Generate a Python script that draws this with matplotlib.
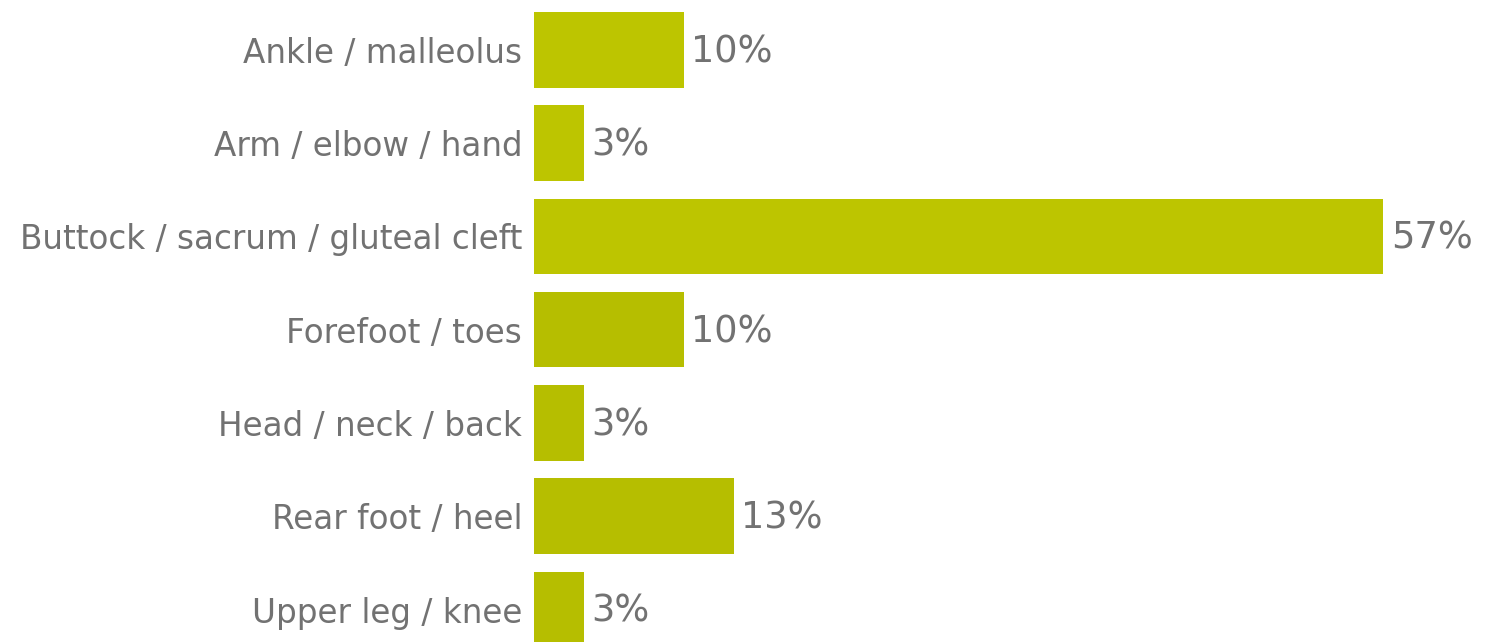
import matplotlib
matplotlib.use("Agg")
import matplotlib.pyplot as plt

sites = ["Ankle / malleolus", "Arm / elbow / hand", "Buttock / sacrum / gluteal cleft",
         "Forefoot / toes", "Head / neck / back", "Rear foot / heel", "Upper leg / knee"]
counts = [3, 1, 17, 3, 1, 4, 1]
total = 30
colors = ["#bdc500", "#bdc500", "#bdc500", "#b6be00", "#b6be00", "#b6be00", "#b6be00"]

share = [c / total for c in counts]

W, H = 1486, 642
fig = plt.figure(figsize=(W / 100, H / 100), dpi=100)
ax = fig.add_axes([534 / W, 0, 1 - 534 / W, 1])

pos = list(range(len(sites)))
ax.barh(pos, share, height=0.81, color=colors)

ax.set_xlim(0, (W - 534) / 1498.5)
ax.set_ylim((H - 49.75) / 93.3, -49.75 / 93.3)

txt = "#727272"
for y, s in zip(pos, share):
    ax.text(s + 0.005, y + 0.02, "%d%%" % round(s * 100), va="center", ha="left",
            fontsize=26.5, color=txt)

ax.set_yticks(pos)
ax.set_yticklabels(sites, fontsize=23.5, color=txt)
ax.tick_params(axis="y", length=0, pad=8.5)
ax.set_xticks([])
for sp in ax.spines.values():
    sp.set_visible(False)

fig.savefig("out.png", dpi=100)
